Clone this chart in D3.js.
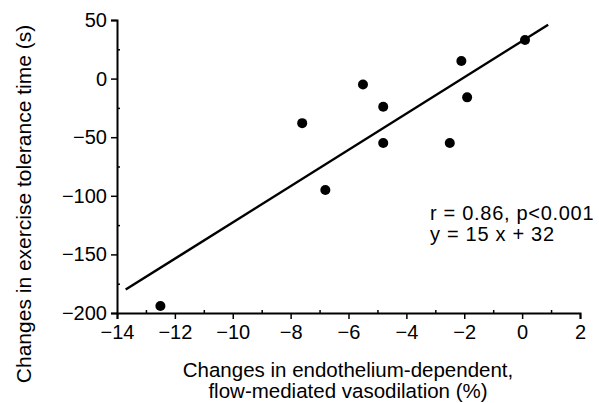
<!DOCTYPE html>
<html lang="en">
<head>
  <meta charset="UTF-8" />
  <script src="https://d3js.org/d3.v7.min.js"></script>
  <title>FMD vs exercise tolerance</title>
  <style>
    body { margin: 0; background: #fff; }
    text { font-family: "Liberation Sans", Arial, Helvetica, sans-serif; fill: #000; }
  </style>
</head>
<body>
<script type="text/javascript">
	var width = 599; var height = 403;

	// data
	var fmdChange = [0.1, -2.1, -1.9, -5.5, -4.8, -4.8, -2.5, -7.6, -6.8, -12.5];
	var timeChange = [33, 15, -16, -5, -24, -55, -55, -38, -95, -194];
	var fitX = [-13.7, 0.9];
	var fitY = [-180, 46];
	var xTicks = [-14, -12, -10, -8, -6, -4, -2, 0, 2];
	var yTicks = [50, 0, -50, -100, -150, -200];
	var statLines = ["r = 0.86, p<0.001", "y = 15 x + 32"];
	var xTitle = ["Changes in endothelium-dependent,", "flow-mediated vasodilation (%)"];
	var yTitle = "Changes in exercise tolerance time (s)";

	var svg = d3.select("body").append("svg").attr("width", width).attr("height", height);

	var x = d3.scaleLinear().domain([-14, 2]).range([117, 580]);
	var y = d3.scaleLinear().domain([-200, 50]).range([313, 20]);

	var fmt = function(d){ return d < 0 ? "\u2212" + Math.abs(d) : "" + d; };

	// x axis
	var gx = svg.append("g").attr("transform", "translate(0," + y(-200) + ")");
	gx.call(d3.axisBottom(x).tickValues(xTicks).tickSize(6).tickPadding(6).tickFormat(fmt));
	gx.append("g").call(d3.axisTop(x).tickValues(d3.range(-13, 2, 2)).tickSize(3).tickFormat(""))
		.select(".domain").remove();
	// y axis
	var gy = svg.append("g").attr("transform", "translate(" + x(-14) + ",0)");
	gy.call(d3.axisLeft(y).tickValues(yTicks).tickSize(6).tickPadding(4).tickFormat(fmt));
	gy.append("g").call(d3.axisRight(y).tickValues([25, -25, -75, -125, -175]).tickSize(3).tickFormat(""))
		.select(".domain").remove();

	svg.selectAll(".domain").attr("stroke", "#000").attr("stroke-width", 2);
	svg.selectAll(".tick line").attr("stroke", "#000").attr("stroke-width", 1.5);
	svg.selectAll(".tick text").attr("font-size", 20).attr("fill", "#000")
		.style("font-family", "Liberation Sans, Arial, sans-serif");

	// regression line
	var fit = fitX.map(function(d, i){ return [d, fitY[i]]; });
	svg.append("path").datum(fit)
		.attr("d", d3.line().x(function(d){return x(d[0]);}).y(function(d){return y(d[1]);}))
		.attr("stroke", "#000").attr("stroke-width", 2.5).attr("fill", "none");

	// points
	svg.selectAll("circle.pt").data(fmdChange).enter().append("circle")
		.attr("class", "pt")
		.attr("cx", function(d){return x(d);})
		.attr("cy", function(d, i){return y(timeChange[i]);})
		.attr("r", 5).attr("fill", "#000");

	// stats text
	svg.selectAll("text.stat").data(statLines).enter().append("text")
		.attr("class", "stat").attr("font-size", 20).attr("letter-spacing", 0.7)
		.attr("x", 430).attr("y", function(d, i){return 220 + i * 21;})
		.text(function(d){return d;});

	// axis titles
	svg.append("text").attr("text-anchor", "middle").attr("font-size", 20.5)
		.selectAll("tspan").data(xTitle).enter().append("tspan")
		.attr("x", 348).attr("y", function(d, i){return 377 + i * 21;})
		.text(function(d){return d;});

	svg.append("text").attr("text-anchor", "middle").attr("font-size", 21)
		.attr("transform", "translate(31,204) rotate(-90)")
		.text(yTitle);
</script>
</body>
</html>
